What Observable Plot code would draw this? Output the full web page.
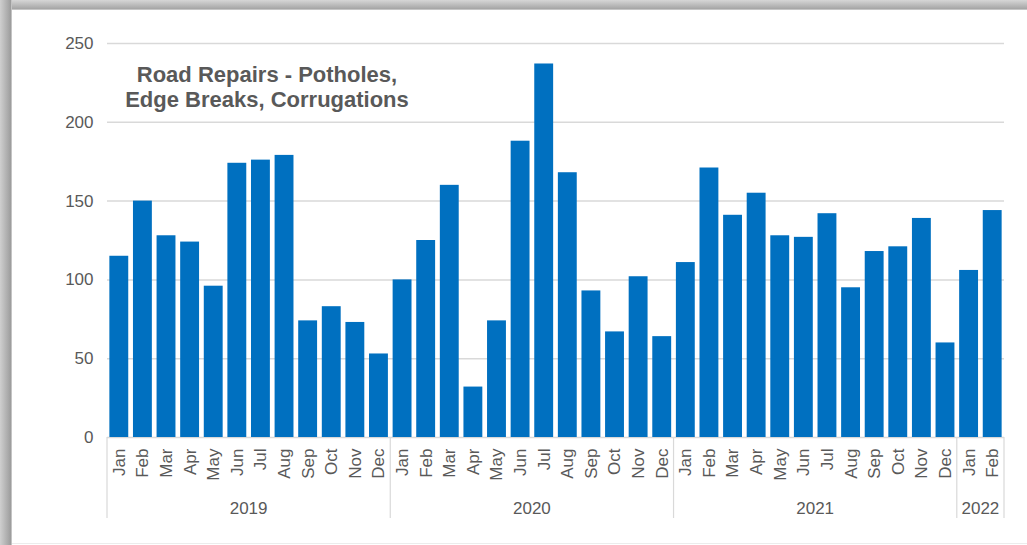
<!DOCTYPE html>
<html>
<head>
<meta charset="utf-8">
<script src="https://cdn.jsdelivr.net/npm/d3@7"></script>
<script src="https://cdn.jsdelivr.net/npm/@observablehq/plot@0.6"></script>
<style>
  body { margin: 0; background: #fff; font-family: "Liberation Sans", Arial, sans-serif; }
  #wrap { position: relative; width: 1027px; height: 545px; overflow: hidden; background: #fff; }
  #shadowTop { position: absolute; left: 0; top: 0; width: 1027px; height: 10px;
    background: linear-gradient(to bottom, #d6d6d6 0%, #b0b0b0 70%, #a4a4a4 90%, #e6e6e6 100%); }
  #shadowLeft { position: absolute; left: 0; top: 0; width: 12px; height: 545px;
    background: linear-gradient(to right, #cfcfcf 0%, #a8a8a8 70%, #9c9c9c 90%, #e0e0e0 100%); }
  #bottomLine { position: absolute; left: 12px; top: 543px; width: 1015px; height: 1px; background: #ececec; }
  #chart { position: absolute; left: 0; top: 0; }
  #title { position: absolute; left: 67px; top: 62px; width: 400px; text-align: center;
    font-size: 22px; line-height: 25px; font-weight: bold; color: #595959; }
</style>
</head>
<body>
<div id="wrap">
  <div id="shadowTop"></div>
  <div id="shadowLeft"></div>
  <div id="bottomLine"></div>
  <div id="chart"></div>
  <div id="title">Road Repairs - Potholes,<br>Edge Breaks, Corrugations</div>
</div>
<script>
const months = ["Jan","Feb","Mar","Apr","May","Jun","Jul","Aug","Sep","Oct","Nov","Dec"];
const years = ["2019","2020","2021","2022"];
const values2019 = [115, 150, 128, 124, 96, 174, 176, 179, 74, 83, 73, 53];
const values2020 = [100, 125, 160, 32, 74, 188, 237, 168, 93, 67, 102, 64];
const values2021 = [111, 171, 141, 155, 128, 127, 142, 95, 118, 121, 139, 60];
const values2022 = [106, 144];
const yTicks = [0, 50, 100, 150, 200, 250];

const seriesByYear = [values2019, values2020, values2021, values2022];
const data = [];
years.forEach((yr, i) => {
  seriesByYear[i].forEach((v, m) => {
    data.push({ key: yr + "-" + months[m], year: yr, month: months[m], value: v });
  });
});
const keys = data.map(d => d.key);
const groups = years.map(yr => {
  const ks = data.filter(d => d.year === yr).map(d => d.key);
  return { year: yr, first: ks[0], last: ks[ks.length - 1] };
});

const textColor = "#595959";
const gridColor = "#d9d9d9";

function yearAxis(index, scales, values, dims) {
  const x = scales.x;
  const step = x(keys[1]) - x(keys[0]);
  const bw = typeof x.bandwidth === "function" ? x.bandwidth() : step * 0.8;
  const gap = (step - bw) / 2;
  const y0 = dims.height - dims.marginBottom;
  const g = d3.create("svg:g");
  const bounds = [];
  groups.forEach(gr => {
    const left = x(gr.first) - gap;
    const right = x(gr.last) + bw + gap;
    bounds.push(left);
    g.append("text")
      .attr("x", (left + right) / 2)
      .attr("y", y0 + 77)
      .attr("text-anchor", "middle")
      .attr("fill", textColor)
      .attr("font-size", 17)
      .text(gr.year);
    if (gr === groups[groups.length - 1]) bounds.push(right);
  });
  bounds.forEach(bx => {
    g.append("line")
      .attr("x1", bx).attr("x2", bx)
      .attr("y1", y0).attr("y2", y0 + 81)
      .attr("stroke", gridColor)
      .attr("stroke-width", 1.2);
  });
  return g.node();
}

const chart = Plot.plot({
  width: 1027,
  height: 545,
  marginLeft: 107,
  marginRight: 23,
  marginTop: 43,
  marginBottom: 108,
  style: {
    fontFamily: "'Liberation Sans', Arial, sans-serif",
    fontSize: "17px",
    color: textColor,
    background: "transparent",
    overflow: "visible"
  },
  x: { domain: keys, paddingInner: 0.2, paddingOuter: 0.1, round: false },
  y: { domain: [0, 250] },
  marks: [
    Plot.gridY(yTicks.filter(t => t > 0), { stroke: gridColor, strokeOpacity: 1, strokeWidth: 1.5 }),
    Plot.ruleY([0], { stroke: gridColor, strokeWidth: 1.5 }),
    Plot.axisY({ ticks: yTicks, tickSize: 0, tickPadding: 14, label: null, fontSize: 17 }),
    Plot.axisX({ tickRotate: -90, tickSize: 0, tickPadding: 11, label: null, fontSize: 17,
      tickFormat: k => k.slice(5) }),
    Plot.barY(data, { x: "key", y: "value", fill: "#0070C0" }),
    yearAxis
  ]
});
document.getElementById("chart").appendChild(chart);
</script>
</body>
</html>
